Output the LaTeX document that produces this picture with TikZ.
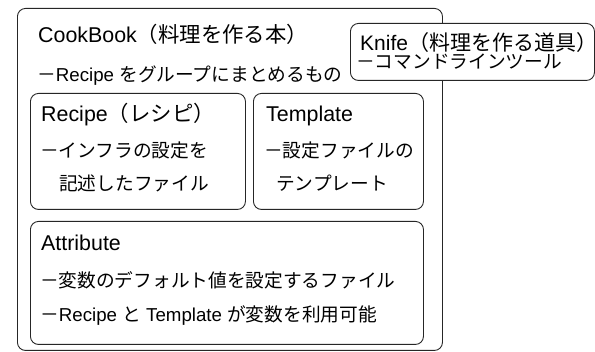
\documentclass[tikz,border=0pt]{standalone}
\usepackage{fontspec}
\setmainfont{Liberation Sans}
\newfontfamily\jp{Noto Sans CJK JP}
\newcommand\J[1]{{\jp #1}}
\begin{document}
\begin{tikzpicture}[x=1pt,y=-1pt]
\useasboundingbox (0,0) rectangle (595,352);
\tikzset{
  box/.style={draw=black!85, line width=0.9pt, rounded corners=8pt, fill=white, inner sep=0pt, anchor=north west},
  txt/.style={anchor=base west, inner sep=0pt, font=\fontsize{18.7}{20}\selectfont},
  ttl/.style={anchor=base west, inner sep=0pt, font=\fontsize{21.4}{23}\selectfont}
}
\node[box, minimum width=425pt, minimum height=342pt] (cookbook) at (17,8) {};
\node[box, minimum width=244pt, minimum height=57pt] (knife) at (350,23) {};
\node[box, minimum width=215pt, minimum height=116pt] (recipe) at (30,93) {};
\node[box, minimum width=170pt, minimum height=116pt] (template) at (253,93) {};
\node[box, minimum width=393pt, minimum height=123pt] (attribute) at (30,221) {};

\node[ttl] (cbt) at (38,43) {CookBook\J{（料理を作る本）}};
\node[txt] (cb1) at (37,82) {\J{－}Recipe \J{をグループにまとめるもの}};

\node[ttl, font=\fontsize{21}{23}\selectfont, text depth=2pt] (kt) at (360,51) {Knife\J{（料理を作る道具）}};
\node[txt, text height=13pt] (k1) at (356,69) {\J{－コマンドラインツール}};

\node[ttl] (rt) at (41,122) {Recipe\J{（レシピ）}};
\node[txt] (r1) at (40,158) {\J{－インフラの設定を}};
\node[txt] (r2) at (59,191) {\J{記述したファイル}};

\node[ttl] (tt) at (266,122) {Template};
\node[txt] (t1) at (264,158) {\J{－設定ファイルの}};
\node[txt] (t2) at (276,191) {\J{テンプレート}};

\node[ttl] (at) at (41,251) {Attribute};
\node[txt] (a1) at (40,288) {\J{－変数のデフォルト値を設定するファイル}};
\node[txt] (a2) at (40,322) {\J{－}Recipe \J{と} Template \J{が変数を利用可能}};
\end{tikzpicture}
\end{document}
